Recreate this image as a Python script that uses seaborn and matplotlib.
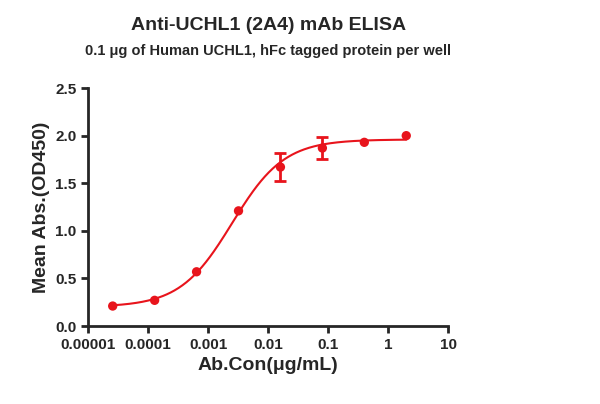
import numpy as np
import pandas as pd
import matplotlib
matplotlib.use("Agg")
import matplotlib.pyplot as plt
import seaborn as sns

# data
conc = [0.0000256, 0.000128, 0.00064, 0.0032, 0.016, 0.08, 0.4, 2.0]
od450 = [0.21, 0.27, 0.57, 1.21, 1.67, 1.87, 1.93, 2.00]
err = [0.0, 0.0, 0.0, 0.0, 0.15, 0.12, 0.0, 0.0]

# 4PL fit parameters (bottom, top, EC50, hill)
fit_params = [0.20, 1.96, 0.0025, 1.0]

sns.set_style("ticks")
plt.rcParams['font.family'] = ['Liberation Sans', 'DejaVu Sans']

fig = plt.figure(figsize=(6, 4.04), dpi=100)
ax = fig.add_axes([0.147, 0.193, 0.6, 0.589])

bottom, top, ec50, hill = fit_params
xs = np.logspace(np.log10(conc[0]), np.log10(conc[-1]), 300)
curve = pd.DataFrame({"x": xs, "y": bottom + (top - bottom) / (1 + (ec50 / xs) ** hill)})
sns.lineplot(data=curve, x="x", y="y", ax=ax, color="#e8141c", lw=1.5)

df = pd.DataFrame({"x": conc, "y": od450})
sns.scatterplot(data=df, x="x", y="y", ax=ax, color="#e8141c", s=45, edgecolor="none", zorder=3)
eb = df.assign(e=err)
eb = eb[eb["e"] > 0]
ax.errorbar(eb["x"], eb["y"], yerr=eb["e"], fmt="none", ecolor="#e8141c", elinewidth=2, capsize=4, capthick=2)

ax.set_xscale("log")
ax.set_xlim(0.00001, 10)
ax.set_ylim(0, 2.5)
ax.set_xticks([0.00001, 0.0001, 0.001, 0.01, 0.1, 1, 10])
ax.set_xticklabels(["0.00001", "0.0001", "0.001", "0.01", "0.1", "1", "10"])
ax.set_yticks([0, 0.5, 1.0, 1.5, 2.0, 2.5])
ax.set_yticklabels(["0.0", "0.5", "1.0", "1.5", "2.0", "2.5"])
ax.minorticks_off()
for lab in ax.get_xticklabels() + ax.get_yticklabels():
    lab.set_fontweight("bold")
    lab.set_fontsize(11)
ax.tick_params(width=2, length=5)
sns.despine(ax=ax)
for s in ["left", "bottom"]:
    ax.spines[s].set_linewidth(2)

ax.set_xlabel("Ab.Con(μg/mL)", fontsize=14, fontweight="bold")
ax.set_ylabel("Mean Abs.(OD450)", fontsize=14, fontweight="bold")
fig.text(0.447, 0.925, "Anti-UCHL1 (2A4) mAb ELISA", ha="center", fontsize=14, fontweight="bold")
fig.text(0.447, 0.865, "0.1 μg of Human UCHL1, hFc tagged protein per well", ha="center", fontsize=10.5, fontweight="bold")

fig.savefig("out.png", dpi=100)
